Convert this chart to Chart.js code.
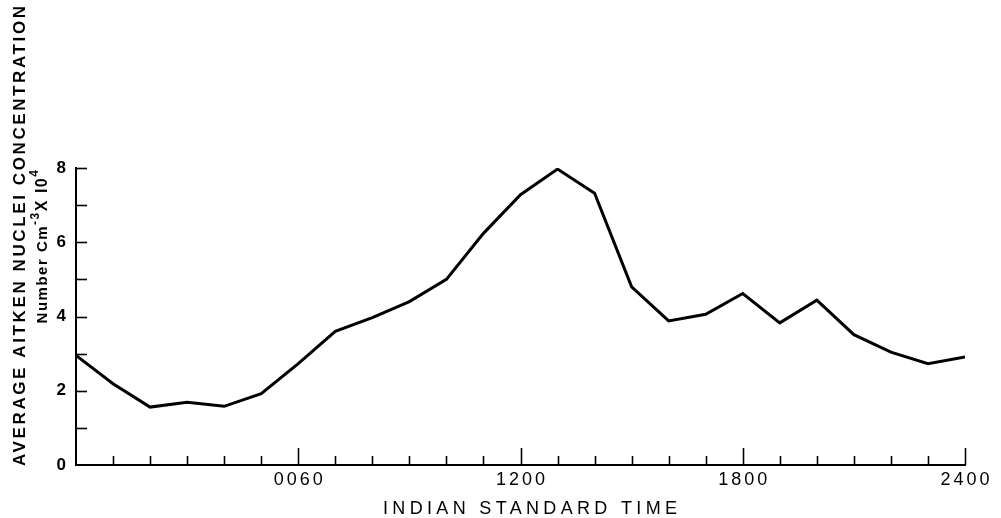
<!DOCTYPE html>
<html>
<head>
<meta charset="utf-8">
<script src="https://cdn.jsdelivr.net/npm/chart.js@4"></script>
<style>
  html, body { margin: 0; padding: 0; background: #fff; }
  canvas { display: block; }
</style>
</head>
<body>
<canvas id="nucleiChart" width="1001" height="518"></canvas>
<script>
// hours of the day (IST) and average Aitken nuclei concentration (x 10^4 per cm^3)
const times = [0, 100, 200, 300, 400, 500, 600, 700, 800, 900, 1000, 1100, 1200,
  1300, 1400, 1500, 1600, 1700, 1800, 1900, 2000, 2100, 2200, 2300, 2400];
const concentration = [2.95, 2.19, 1.56, 1.69, 1.58, 1.92, 2.73, 3.60, 3.97, 4.40, 5.00, 6.24, 7.28,
  7.97, 7.32, 4.80, 3.88, 4.06, 4.62, 3.83, 4.44, 3.51, 3.04, 2.73, 2.91];

const xTickValues = [600, 1200, 1800, 2400];
const xTickLabels = ['0060', '1200', '1800', '2400'];
const yTickValues = [0, 2, 4, 6, 8];
const yTickLabels = ['0', '2', '4', '6', '8'];
const yMinorValues = [1, 2, 3, 4, 5, 6, 7, 8];

const xTitle = 'INDIAN STANDARD TIME';
const yTitle = 'AVERAGE AITKEN NUCLEI CONCENTRATION';

const FONT = '"Liberation Sans", Arial, sans-serif';

// draws the inward tick marks, x labels and the spaced-out titles
const decor = {
  id: 'decor',
  afterDraw(chart) {
    const { ctx, scales: { x, y } } = chart;
    ctx.save();
    ctx.strokeStyle = '#000';
    ctx.fillStyle = '#000';
    ctx.lineWidth = 1.6;

    times.forEach(t => {
      if (t === 0) return;
      const px = Math.round(x.getPixelForValue(t)) + 0.5;
      const len = xTickValues.includes(t) ? 17 : 9;
      ctx.beginPath();
      ctx.moveTo(px, y.bottom);
      ctx.lineTo(px, y.bottom - len);
      ctx.stroke();
    });
    yMinorValues.forEach(v => {
      const py = Math.round(y.getPixelForValue(v)) + 0.5;
      ctx.beginPath();
      ctx.moveTo(x.left, py);
      ctx.lineTo(x.left + 11, py);
      ctx.stroke();
    });

    // x tick labels
    ctx.font = '18px ' + FONT;
    ctx.letterSpacing = '3px';
    ctx.textAlign = 'center';
    ctx.textBaseline = 'middle';
    xTickValues.forEach((v, i) => {
      ctx.fillText(xTickLabels[i], x.getPixelForValue(v) + 1.5, 480);
    });

    // x title
    ctx.font = '18px ' + FONT;
    ctx.letterSpacing = '0px';
    let w = ctx.measureText(xTitle).width;
    let sp = (294 - w) / (xTitle.length - 1);
    ctx.letterSpacing = sp + 'px';
    ctx.fillText(xTitle, 530 + sp / 2, 509);

    // y title, first line
    ctx.save();
    ctx.translate(20, 236);
    ctx.rotate(-Math.PI / 2);
    ctx.font = 'bold 17px ' + FONT;
    ctx.letterSpacing = '0px';
    w = ctx.measureText(yTitle).width;
    sp = (460 - w) / (yTitle.length - 1);
    ctx.letterSpacing = sp + 'px';
    ctx.fillText(yTitle, sp / 2, 0);
    ctx.restore();

    // y title, second line: Number Cm^-3 X 10^4
    ctx.save();
    ctx.translate(42, 246);
    ctx.rotate(-Math.PI / 2);
    ctx.letterSpacing = '1.5px';
    ctx.textAlign = 'left';
    ctx.textBaseline = 'alphabetic';
    const parts = [
      { t: 'Number Cm', f: 'bold 15px ', dy: 0 },
      { t: '-3', f: 'bold 12px ', dy: -8 },
      { t: 'X I0', f: 'bold 16px ', dy: 0 },
      { t: '4', f: 'bold 12px ', dy: -9 }
    ];
    let total = 0;
    parts.forEach(p => { ctx.font = p.f + FONT; p.w = ctx.measureText(p.t).width; total += p.w; });
    let cx = -total / 2;
    parts.forEach(p => {
      ctx.font = p.f + FONT;
      ctx.fillText(p.t, cx, 5 + p.dy);
      cx += p.w;
    });
    ctx.restore();

    ctx.restore();
  }
};

new Chart(document.getElementById('nucleiChart'), {
  type: 'line',
  data: {
    datasets: [{
      data: times.map((t, i) => ({ x: t, y: concentration[i] })),
      borderColor: '#000',
      borderWidth: 3,
      pointRadius: 0,
      tension: 0,
      fill: false
    }]
  },
  options: {
    responsive: false,
    animation: false,
    devicePixelRatio: 1,
    layout: { padding: { left: 0, right: 36, top: 168, bottom: 0 } },
    plugins: { legend: { display: false }, tooltip: { enabled: false } },
    scales: {
      x: {
        type: 'linear',
        min: 0,
        max: 2400,
        afterFit: s => { s.height = 53; },
        grid: { display: true, drawOnChartArea: false, drawTicks: false, tickLength: 0 },
        border: { display: true, color: '#000', width: 2 },
        ticks: { display: false, stepSize: 600 }
      },
      y: {
        min: 0,
        max: 8,
        afterFit: s => { s.width = 76; },
        afterBuildTicks: s => { s.ticks = yTickValues.map(v => ({ value: v })); },
        grid: { display: true, drawOnChartArea: false, drawTicks: false, tickLength: 0 },
        border: { display: true, color: '#000', width: 2 },
        ticks: {
          color: '#000',
          padding: 10,
          font: { family: FONT, size: 17, weight: 'bold' },
          callback: v => yTickLabels[yTickValues.indexOf(v)]
        }
      }
    }
  },
  plugins: [decor]
});
</script>
</body>
</html>
